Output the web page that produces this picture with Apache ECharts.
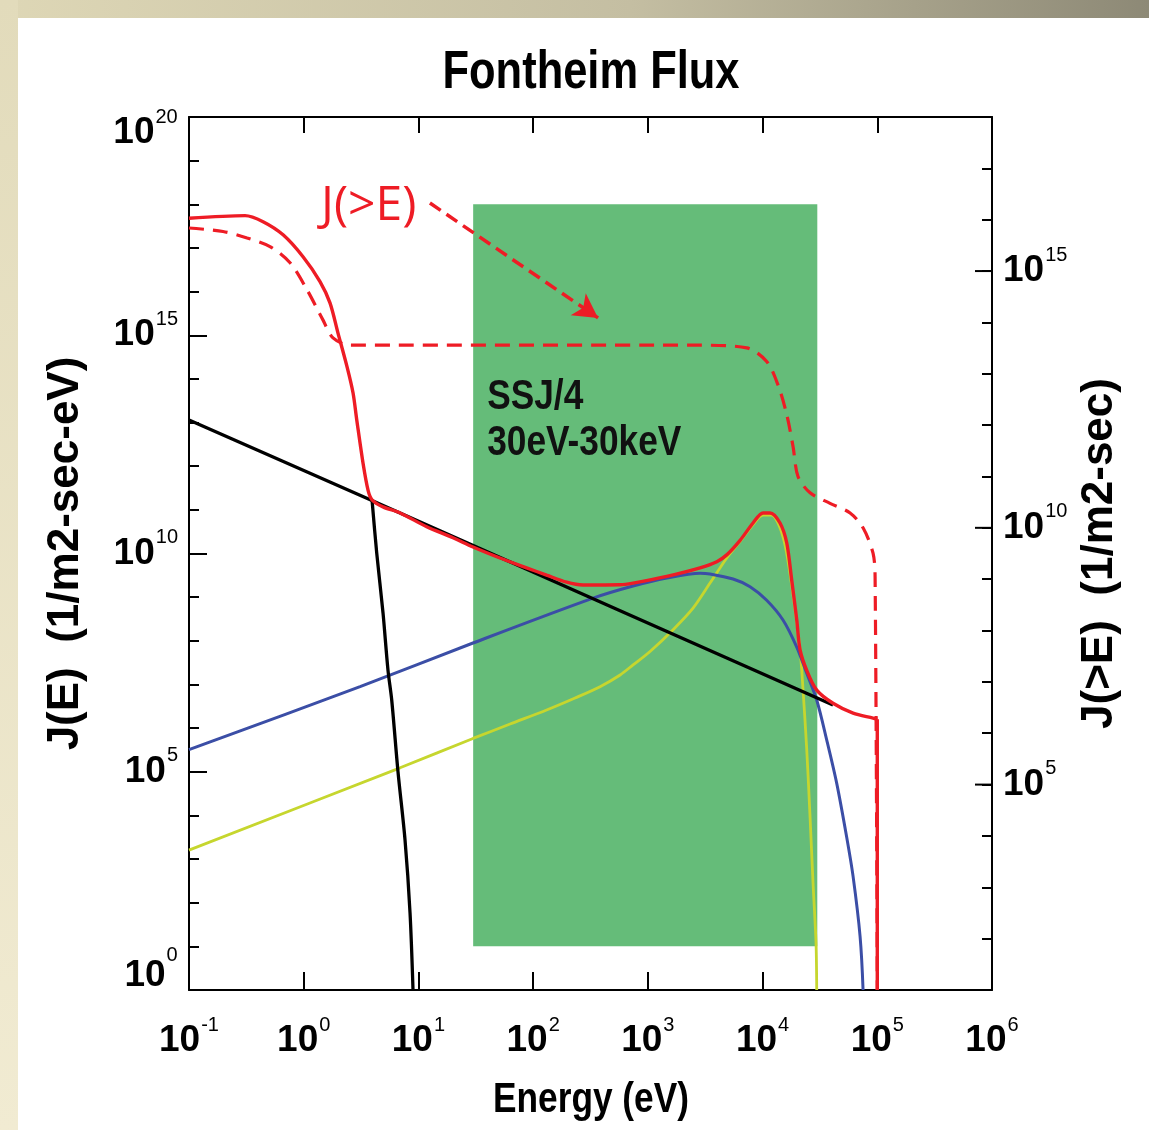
<!DOCTYPE html>
<html>
<head>
<meta charset="utf-8">
<title>Fontheim Flux</title>
<script src="https://cdn.jsdelivr.net/npm/echarts@6/dist/echarts.min.js"></script>
<style>
  html, body { margin: 0; padding: 0; background: #ffffff; }
  #chart { width: 1149px; height: 1130px; }
</style>
</head>
<body>
<div id="chart"></div>
<script>
// ---- data: [energy (eV), flux] ----
// differential number flux J(E), 1/(m2 sec eV) — total spectrum
const totalFlux = [
  [0.1, 4.8e17], [0.308, 5.5e17], [0.442, 4.0e17], [0.661, 2.0e17], [0.986, 6.3e16],
  [1.387, 1.7e16], [1.694, 5.5e15], [1.99, 1.12e15], [2.39, 1.86e14], [2.69, 4.8e13],
  [2.90, 1.15e13], [3.29, 1.17e12], [3.64, 2.8e11], [3.94, 1.7e11], [4.91, 1.17e11],
  [6.92, 8.5e10], [11.8, 4.1e10], [20.0, 2.3e10], [29.9, 1.41e10], [51.4, 7.9e9],
  [87.7, 4.7e9], [131, 3.2e9], [196, 2.2e9], [272, 1.9e9], [573, 1.92e9],
  [743, 2.1e9], [1462, 3.0e9], [2851, 4.7e9], [3990, 6.5e9], [4875, 9.3e9],
  [6368, 2.0e10], [8260, 5.0e10], [10090, 8.5e10], [11610, 8.5e10], [14190, 5.0e10],
  [16250, 1.74e10], [17950, 2.45e9], [19860, 3.0e8], [21230, 6.2e7], [24270, 2.1e7],
  [29650, 7.4e6], [41110, 3.7e6], [61520, 2.2e6], [91830, 1.7e6], [1e5, 1.6e6]
];
// cut-off of the total spectrum at 100 keV
const totalCutoff = [[1e5, 1.6e6], [1e5, 1]];

// integral number flux J(>E), 1/(m2 sec) — right axis
const integralFlux = [
  [0.1, 6.9e15], [0.198, 5.9e15], [0.321, 4.4e15], [0.508, 3.0e15], [0.760, 1.45e15],
  [1.07, 4.3e14], [1.47, 1.12e14], [1.80, 5.0e13], [2.54, 3.6e13], [2851, 3.6e13],
  [7280, 3.2e13], [10860, 1.74e13], [13650, 6.0e12], [16250, 1.6e12], [18450, 3.8e11],
  [20370, 1.0e11], [25940, 4.8e10], [38730, 3.0e10], [57940, 1.95e10], [75160, 1.0e10],
  [91830, 3.2e9], [95700, 1.1e9], [1e5, 10]
];

// black: power-law component
const powerLaw = [[0.1, 1.15e13], [3.8, 1.7e11], [573, 4.9e8], [41110, 3.4e6]];

// black: cold Maxwellian, below the point where it leaves the total
const coldMaxwellian = [
  [3.94, 1.7e11], [4.33, 1.02e10], [4.91, 4.4e8], [5.43, 2.1e7], [5.85, 4.4e6],
  [6.64, 9.8e4], [7.64, 2.75e3], [8.45, 58], [8.97, 1]
];

// blue: hot Maxwellian
const hotMaxwellian = [
  [0.1, 3.2e5], [3.10, 8.9e6], [29.9, 8.9e7], [333, 9.5e8], [743, 1.8e9],
  [1462, 2.75e9], [2851, 3.55e9], [3483, 3.4e9], [5533, 2.6e9], [7780, 1.74e9],
  [10860, 8.5e8], [15070, 3.0e8], [19860, 7.2e7], [24270, 1.8e7], [29650, 4.4e6],
  [36220, 5.4e5], [44260, 5.5e4], [54080, 3.2e3], [61520, 400], [70790, 17], [75160, 1]
];

// yellow-green: accelerated population
const acceleratedBeam = [
  [0.1, 1.6e3], [6.92, 1.23e5], [29.9, 5.8e5], [63, 1.24e6], [131, 2.6e6],
  [232, 4.9e6], [383, 8.9e6], [573, 1.65e7], [743, 2.8e7], [1045, 5.7e7],
  [1660, 1.8e8], [2477, 5.6e8], [3483, 2.1e9], [4875, 7.9e9], [6368, 1.9e10],
  [8260, 4.6e10], [10090, 7.6e10], [12020, 7.6e10], [14130, 4.0e10], [16030, 1.2e10],
  [18450, 1.1e9], [21230, 6.2e7], [22540, 7.4e6], [24270, 3.2e5], [25940, 9.1e3],
  [27540, 280], [29240, 12], [29650, 1]
];

// SSJ/4 energy window (eV) and the flux span of its shading
const ssj4Energy = [30, 3e4];
const ssj4FluxSpan = [10, 1e18];
const ssj4Text = ['SSJ/4', '30eV-30keV'];

// annotation arrow from the J(>E) tag towards the integral curve (tail, tip)
const arrowEnds = [[12.6, 1.07e18], [368, 2.5e15]];
const arrowText = 'J(>E)';

// tick labels (powers of ten)
const xTickExponents = [-1, 0, 1, 2, 3, 4, 5, 6];
const leftTickExponents = [0, 5, 10, 15, 20];
const rightTickExponents = [5, 10, 15];

// ---- styling ----
const SANS = '"Liberation Sans", Arial, Helvetica, sans-serif';
const NARROW_SCALE = 0.82;          // horizontal squeeze for the condensed headings
const RED = '#ee1c25';
const BLUE = '#3b4ea6';
const YELLOW = '#c6d62e';
const GREEN = '#65bc79';
const axisLine = { show: true, onZero: false, lineStyle: { color: '#000', width: 2 } };
const tickStyle = { color: '#000', width: 2 };

const expOf = v => Math.round(Math.log10(v));

// rich styles for "10" with a raised exponent
const B = { fontFamily: SANS, fontWeight: 'bold', fontSize: 37, color: '#000' };
const S = { fontFamily: SANS, fontWeight: 'normal', fontSize: 20, color: '#000', padding: [0, 0, 0, 1] };
const rich = {
  b:  Object.assign({}, B, { lineHeight: 52 }),
  s:  Object.assign({}, S, { lineHeight: 20, verticalAlign: 'top' }),
  // top end of the left axis: the label hangs below its tick
  bt: Object.assign({}, B, { lineHeight: 37, verticalAlign: 'bottom' }),
  st: Object.assign({}, S, { lineHeight: 20, verticalAlign: 'middle' }),
  pt: { fontSize: 1, lineHeight: 69 },
  // bottom end of the left axis: the label sits above its tick
  bb: Object.assign({}, B, { lineHeight: 37, verticalAlign: 'top', padding: [12, 0, 0, 0] }),
  sb: Object.assign({}, S, { lineHeight: 20, verticalAlign: 'top' }),
  pb: { fontSize: 1, lineHeight: 90 }
};

const chart = echarts.init(document.getElementById('chart'), null, { renderer: 'canvas' });

const option = {
  animation: false,
  backgroundColor: '#ffffff',
  grid: { left: 189, top: 117, width: 803, height: 873 },
  graphic: [
    { id: 'stripTop', type: 'rect', shape: { x: 0, y: 0, width: 1149, height: 18 }, silent: true, z: -10,
      style: { fill: new echarts.graphic.LinearGradient(0, 0, 1, 0, [
        { offset: 0, color: '#ded7b6' }, { offset: 0.55, color: '#c4bea2' }, { offset: 1, color: '#8d8976' }]) } },
    { id: 'stripLeft', type: 'rect', shape: { x: 0, y: 0, width: 18, height: 1130 }, silent: true, z: -10,
      style: { fill: new echarts.graphic.LinearGradient(0, 0, 0, 1, [
        { offset: 0, color: '#e2dbbb' }, { offset: 1, color: '#f1ebd2' }]) } },
    { id: 'title', type: 'text', x: 591, y: 73, scaleX: NARROW_SCALE, silent: true,
      style: { text: 'Fontheim Flux', align: 'center', verticalAlign: 'middle',
               font: 'bold 53px ' + SANS, fill: '#000' } },
    { id: 'xName', type: 'text', x: 591, y: 1100, scaleX: NARROW_SCALE, silent: true,
      style: { text: 'Energy (eV)', align: 'center', verticalAlign: 'middle',
               font: 'bold 43px ' + SANS, fill: '#000' } },
    { id: 'tag', type: 'text', x: 321, y: 206, silent: true,
      style: { text: arrowText, align: 'left', verticalAlign: 'middle',
               font: 'normal 48px "Open Sans", "Noto Sans", sans-serif', fill: RED } }
  ],
  xAxis: [
    {
      type: 'log', logBase: 10, min: 0.1, max: 1e6, interval: 1, position: 'bottom',
      axisLine, splitLine: { show: false },
      axisTick: { show: true, inside: true, length: 18, lineStyle: tickStyle },
      axisLabel: {
        margin: 25, rich,
        formatter: v => { const e = expOf(v); return xTickExponents.includes(e) ? '{b|10}{s|' + e + '}' : ''; }
      }
    },
    {
      type: 'log', logBase: 10, min: 0.1, max: 1e6, interval: 1, position: 'top',
      axisLine, splitLine: { show: false },
      axisTick: { show: true, inside: true, length: 16, lineStyle: tickStyle },
      axisLabel: { show: false }
    }
  ],
  yAxis: [
    { // left: a tick at every decade
      type: 'log', logBase: 10, min: 1, max: 1e20, interval: 1, position: 'left',
      axisLine, splitLine: { show: false },
      axisTick: { show: true, inside: true, length: 10, lineStyle: tickStyle },
      axisLabel: { show: false }
    },
    { // left: labelled decades
      type: 'log', logBase: 10, min: 1, max: 1e20, interval: 5, position: 'left',
      axisLine: { show: false }, splitLine: { show: false },
      axisTick: { show: true, inside: true, length: 18, lineStyle: tickStyle },
      axisLabel: {
        margin: 11, rich,
        formatter: v => {
          const e = expOf(v);
          if (!leftTickExponents.includes(e)) return '';
          if (e === 20) return '{bt|10}{st|' + e + '}{pt| }';
          if (e === 0) return '{bb|10}{sb|' + e + '}{pb| }';
          return '{b|10}{s|' + e + '}';
        }
      },
      name: 'J(E)  (1/m2-sec-eV)', nameLocation: 'middle', nameRotate: 90, nameGap: 101,
      nameTextStyle: { fontFamily: SANS, fontWeight: 'bold', fontSize: 44, color: '#000' }
    },
    { // right: integral flux
      type: 'log', logBase: 10, min: 10, max: 1e18, interval: 1, position: 'right',
      axisLine, splitLine: { show: false },
      axisTick: { show: true, inside: true, length: 10, lineStyle: tickStyle },
      axisLabel: {
        margin: 11, rich,
        formatter: v => { const e = expOf(v); return rightTickExponents.includes(e) ? '{b|10}{s|' + e + '}' : ''; }
      },
      name: 'J(>E)  (1/m2-sec)', nameLocation: 'middle', nameRotate: 90, nameGap: 56,
      nameTextStyle: { fontFamily: SANS, fontWeight: 'bold', fontSize: 44, color: '#000' }
    }
  ],
  series: [
    { // SSJ/4 window
      type: 'line', xAxisIndex: 0, yAxisIndex: 0, data: [], silent: true,
      markArea: {
        silent: true,
        itemStyle: { color: GREEN, opacity: 1 },
        label: { show: false },
        data: [[
          { coord: [ssj4Energy[0], ssj4FluxSpan[1]] },
          { coord: [ssj4Energy[1], ssj4FluxSpan[0]] }
        ]]
      }
    },
    { name: 'accelerated', type: 'line', data: acceleratedBeam, yAxisIndex: 0, smooth: 0.3,
      showSymbol: false, lineStyle: { color: YELLOW, width: 2.8 }, z: 3 },
    { name: 'hot', type: 'line', data: hotMaxwellian, yAxisIndex: 0, smooth: 0.3,
      showSymbol: false, lineStyle: { color: BLUE, width: 3 }, z: 4 },
    { name: 'power law', type: 'line', data: powerLaw, yAxisIndex: 0,
      showSymbol: false, lineStyle: { color: '#000', width: 3.3 }, z: 5 },
    { name: 'cold', type: 'line', data: coldMaxwellian, yAxisIndex: 0, smooth: 0.3,
      showSymbol: false, lineStyle: { color: '#000', width: 3.3 }, z: 5 },
    { name: 'J(E)', type: 'line', data: totalFlux, yAxisIndex: 0, smooth: 0.3,
      showSymbol: false, lineStyle: { color: RED, width: 3.4 }, z: 6,
      markLine: {
        silent: true, symbol: ['none', 'arrow'], symbolSize: [20, 24],
        label: { show: false },
        lineStyle: { color: RED, width: 3.5, type: [13, 7] },
        data: [[ { coord: arrowEnds[0] }, { coord: arrowEnds[1] } ]]
      }
    },
    { name: 'J(E) cutoff', type: 'line', data: totalCutoff, yAxisIndex: 0,
      showSymbol: false, lineStyle: { color: RED, width: 3.4 }, z: 6 },
    { name: 'J(>E)', type: 'line', data: integralFlux, yAxisIndex: 2, smooth: 0.3,
      showSymbol: false, lineStyle: { color: RED, width: 3.2, type: [15, 9] }, z: 7 },
    { // long ticks at the labelled decades of the right axis
      type: 'custom', xAxisIndex: 0, yAxisIndex: 2, silent: true, clip: false, z: 8,
      data: rightTickExponents.map(e => [1e6, Math.pow(10, e)]),
      renderItem: (params, api) => {
        const p = api.coord([api.value(0), api.value(1)]);
        return { type: 'line', shape: { x1: p[0], y1: p[1], x2: p[0] - 17, y2: p[1] },
                 style: { stroke: '#000', lineWidth: 2 } };
      }
    }
  ]
};
chart.setOption(option);

// SSJ/4 caption, anchored to the top-left corner of the shaded window
const corner = chart.convertToPixel({ xAxisIndex: 0, yAxisIndex: 0 }, [ssj4Energy[0], ssj4FluxSpan[1]]);
chart.setOption({
  graphic: [{
    id: 'ssjCaption', type: 'text', x: corner[0] + 14, y: corner[1] + 216, scaleX: 0.84,
    silent: true, z: 20,
    style: { text: ssj4Text.join('\n'), align: 'left', verticalAlign: 'middle',
             font: 'bold 42px ' + SANS, lineHeight: 46, fill: '#111' }
  }]
});
</script>
</body>
</html>
